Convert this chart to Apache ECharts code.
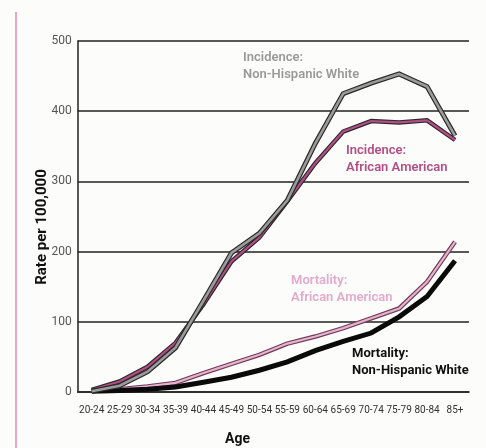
<!DOCTYPE html>
<html><head><meta charset="utf-8">
<script src="https://cdn.jsdelivr.net/npm/echarts@6/dist/echarts.min.js"></script>
<style>html,body{margin:0;padding:0;background:#fcfcfa;}#c{width:486px;height:448px;}</style>
</head><body><div id="c"></div>
<script>
const categories = ['20-24','25-29','30-34','35-39','40-44','45-49','50-54','55-59','60-64','65-69','70-74','75-79','80-84','85+'];
const yTicks = [0,100,200,300,400,500];
const incidenceWhite = [1, 9, 29, 63, 130, 198, 226, 273, 354, 425, 440, 453, 435, 365];
const incidenceAfrican = [3, 15, 36, 70, 125, 186, 220, 272, 326, 371, 386, 384, 387, 359];
const mortalityAfrican = [2, 4, 8, 13, 27, 40, 53, 69, 79, 91, 105, 119, 157, 214];
const mortalityWhite = [1, 2, 4, 7, 14, 21, 31, 43, 59, 72, 84, 107, 136, 187];

const chart = echarts.init(document.getElementById('c'), null, {renderer:'canvas'});
function dbl(name, data, outer, ow, inner, iw, z){
  return [
    {name:name+'o', type:'line', data:data, symbol:'none', z:z, silent:true,
     lineStyle:{color:outer, width:ow, join:'miter', cap:'butt'}},
    {name:name+'i', type:'line', data:data, symbol:'none', z:z+1, silent:true,
     lineStyle:{color:inner, width:iw, join:'miter', cap:'butt'}}
  ];
}
chart.setOption({
  animation:false,
  backgroundColor:'#fcfcfa',
  grid:{left:77.7, right:17, top:41, bottom:56, containLabel:false},
  xAxis:{type:'category', data:categories, boundaryGap:true,
    axisLine:{lineStyle:{color:'#222', width:1.5}},
    axisTick:{inside:true, length:6, lineStyle:{color:'#222', width:1.2}},
    axisLabel:{interval:0, color:'#333', fontSize:10, fontFamily:'Roboto, sans-serif', margin:13}},
  yAxis:{type:'value', min:0, max:500, interval:100,
    axisLine:{show:true, lineStyle:{color:'#222', width:1.5}},
    axisTick:{show:false},
    axisLabel:{color:'#555', fontSize:12, fontFamily:'Roboto, sans-serif', margin:6, padding:[0,0,8,0],
      formatter:v=>yTicks.includes(v)?String(v):''},
    splitLine:{show:true, lineStyle:{color:'#222', width:1.5}}},
  series:[
    ...dbl('mAA', mortalityAfrican, '#6e3a55', 4.5, '#e6b3cf', 2.2, 2),
    {name:'mW', type:'line', data:mortalityWhite, symbol:'none', z:4, silent:true,
      lineStyle:{color:'#0a0a0a', width:5, join:'miter'}},
    ...dbl('iAA', incidenceAfrican, '#2a2a2a', 4.5, '#b44d85', 2.2, 6),
    ...dbl('iW', incidenceWhite, '#2a2a2a', 5, '#9b9b9b', 2.6, 8)
  ],
  graphic:[
    {type:'line', shape:{x1:16, y1:12, x2:16, y2:448}, style:{stroke:'#e2a9c6', lineWidth:2}},
    {type:'text', x:42, y:227, rotation:Math.PI/2, style:{text:'Rate per 100,000', fill:'#111', font:"bold 15px Roboto, sans-serif", align:'center', verticalAlign:'middle'}},
    {type:'text', left:243, top:49, style:{text:'Incidence:\nNon-Hispanic White', fill:'#9a9a9a', font:"600 13px Roboto, sans-serif", lineHeight:17}},
    {type:'text', left:346, top:142, style:{text:'Incidence:\nAfrican American', fill:'#b44d85', font:"600 13px Roboto, sans-serif", lineHeight:17}},
    {type:'text', left:291, top:272, style:{text:'Mortality:\nAfrican American', fill:'#e3aacb', font:"600 13px Roboto, sans-serif", lineHeight:17}},
    {type:'text', left:352, top:345, style:{text:'Mortality:\nNon-Hispanic White', fill:'#111', font:"bold 13px Roboto, sans-serif", lineHeight:17}},
    {type:'text', left:225, top:432, style:{text:'Age', fill:'#111', font:"bold 14px Roboto, sans-serif"}}
  ]
});
</script></body></html>
